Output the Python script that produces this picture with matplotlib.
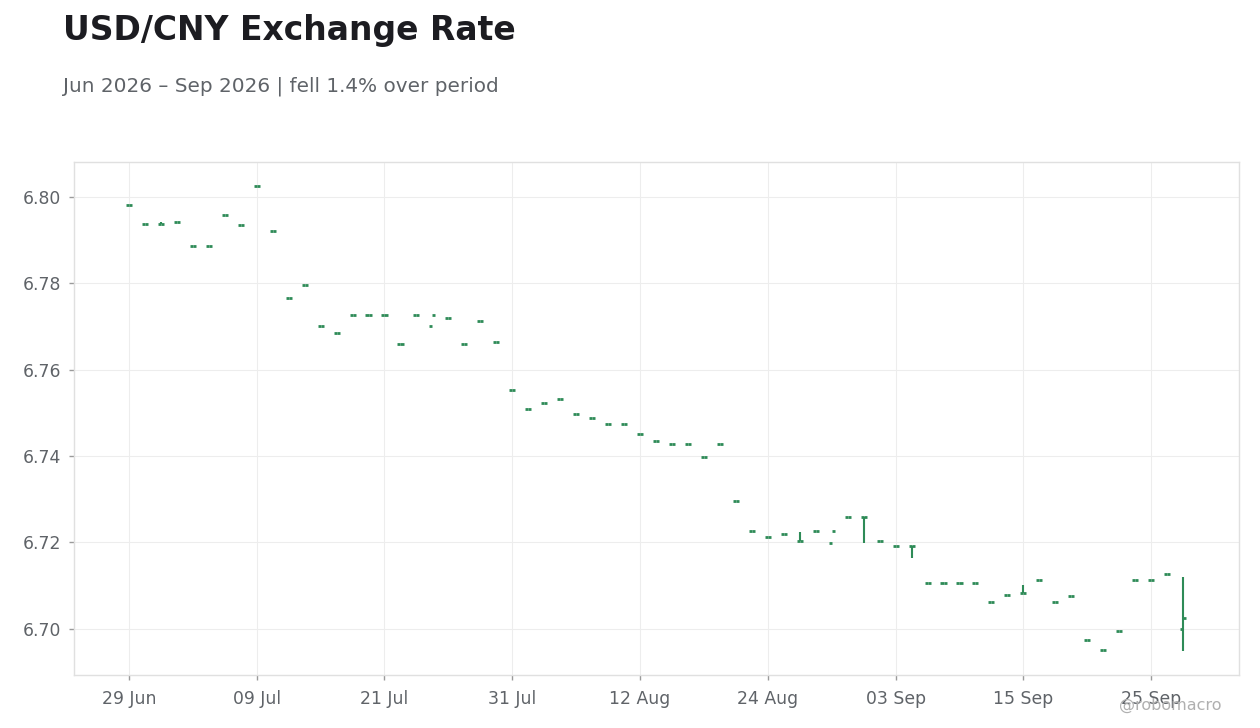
import matplotlib
matplotlib.use("Agg")
import matplotlib.pyplot as plt
import pandas as pd
import numpy as np

plt.rcParams["font.family"] = ["DejaVu Sans"]

# ---- data (business days from 29 Jun 2026) ----
dates = pd.bdate_range("2026-06-29", periods=67)

opens = [6.7982, 6.7938, 6.7938, 6.7943, 6.7887, 6.7887, 6.7959, 6.7936, 6.8026, 6.7922,
         6.7767, 6.7797, 6.7702, 6.7684, 6.7726, 6.7726, 6.7726, 6.7659, 6.7726, 6.7702,
         6.7719, 6.7659, 6.7712, 6.7663, 6.7552, 6.7510, 6.7524, 6.7533, 6.7498, 6.7489,
         6.7475, 6.7475, 6.7450, 6.7434, 6.7429, 6.7429, 6.7399, 6.7427, 6.7295, 6.7226,
         6.7212, 6.7219, 6.7203, 6.7226, 6.7198, 6.7260, 6.7260, 6.7203, 6.7191, 6.7191,
         6.7107, 6.7107, 6.7105, 6.7105, 6.7061, 6.7079, 6.7082, 6.7112, 6.7061, 6.7075,
         6.6975, 6.6952, 6.6996, 6.7112, 6.7112, 6.7128, 6.7000]
closes = [6.7982, 6.7938, 6.7938, 6.7943, 6.7887, 6.7887, 6.7959, 6.7936, 6.8026, 6.7922,
          6.7767, 6.7797, 6.7702, 6.7684, 6.7726, 6.7726, 6.7726, 6.7659, 6.7726, 6.7726,
          6.7719, 6.7659, 6.7712, 6.7663, 6.7552, 6.7510, 6.7524, 6.7533, 6.7498, 6.7489,
          6.7475, 6.7475, 6.7450, 6.7434, 6.7429, 6.7429, 6.7399, 6.7427, 6.7295, 6.7226,
          6.7212, 6.7219, 6.7203, 6.7226, 6.7226, 6.7260, 6.7260, 6.7203, 6.7191, 6.7191,
          6.7107, 6.7107, 6.7105, 6.7105, 6.7061, 6.7079, 6.7082, 6.7112, 6.7061, 6.7075,
          6.6975, 6.6952, 6.6996, 6.7112, 6.7112, 6.7128, 6.7024]
highs = list(opens)
lows = list(opens)
# days with a visible high-low range
highs[2] = 6.7941
highs[42] = 6.7224
lows[46] = 6.7198
lows[49] = 6.7165
highs[56] = 6.7102
highs[66] = 6.7120
lows[66] = 6.6948

tick_idx = list(range(0, 67, 8))
tick_labels = [dates[i].strftime("%d %b") for i in tick_idx]
ytick_vals = [6.70, 6.72, 6.74, 6.76, 6.78, 6.80]

title = "USD/CNY Exchange Rate"
subtitle = "Jun 2026 \u2013 Sep 2026 | fell 1.4% over period"
watermark = "@robomacro"

# ---- style ----
GREEN = "#2e8b57"
GRID = "#ededed"
FRAME = "#e0e0e0"
TXT = "#5f6368"

fig = plt.figure(figsize=(12.6, 7.28), dpi=100)
ax = fig.add_axes([74 / 1260, 1 - 675 / 728, (1239 - 74) / 1260, (675 - 162) / 728])

x = np.arange(len(dates))
hw = 0.19
ax.vlines(x, lows, highs, color=GREEN, lw=1.5, zorder=3)
ax.hlines(opens, x - hw, x, color=GREEN, lw=2.0, zorder=3)
ax.hlines(closes, x, x + hw, color=GREEN, lw=2.0, zorder=3)

ax.set_xlim(-3.44, 69.5)
ax.set_ylim(6.6893, 6.8081)

ax.set_xticks(tick_idx)
ax.set_xticklabels(tick_labels)
ax.set_yticks(ytick_vals)
ax.set_yticklabels([f"{v:.2f}" for v in ytick_vals])

ax.grid(True, color=GRID, lw=0.8, zorder=0)
ax.set_axisbelow(True)
for s in ax.spines.values():
    s.set_color(FRAME)
    s.set_linewidth(1.0)
ax.tick_params(axis="both", colors="#9a9a9a", length=3.5, width=1,
               labelcolor=TXT, labelsize=12.4)
ax.tick_params(axis="y", pad=6)
ax.tick_params(axis="x", pad=7)

fig.text(63 / 1260, 1 - 40 / 728, title, fontsize=23.8, fontweight="bold",
         color="#1c1c21", ha="left", va="baseline")
fig.text(63 / 1260, 1 - 92 / 728, subtitle, fontsize=14.4, color=TXT,
         ha="left", va="baseline")
fig.text(1222 / 1260, 1 - 710 / 728, watermark, fontsize=11.5, color="#b0b0b0",
         ha="right", va="baseline")

fig.savefig("out.png", dpi=100)
